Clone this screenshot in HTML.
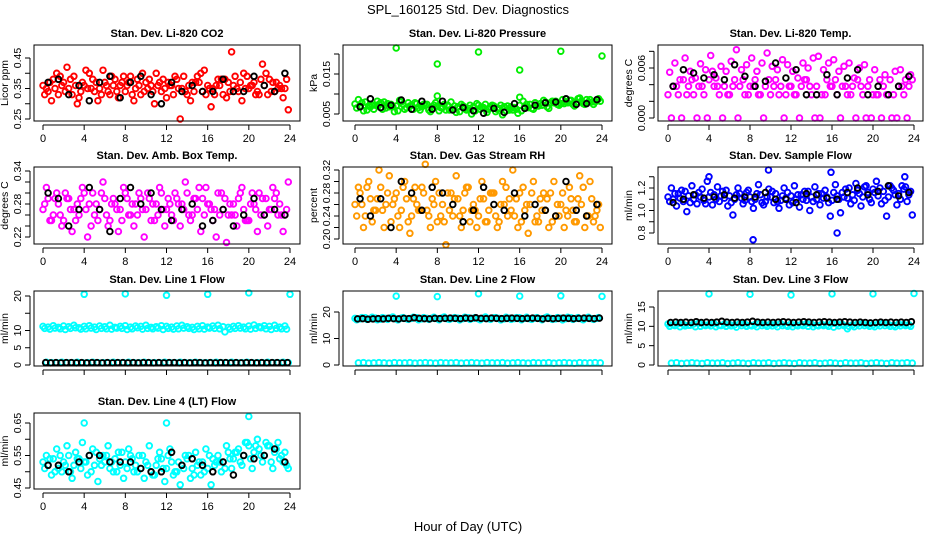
<!DOCTYPE html>
<html><head><meta charset="utf-8">
<style>
html,body{margin:0;padding:0;background:#fff;}
svg{display:block;font-family:"Liberation Sans",Arial,sans-serif;}
</style></head>
<body>
<svg id="chart" width="936" height="540" viewBox="0 0 936 540" xmlns="http://www.w3.org/2000/svg">
<rect x="0" y="0" width="936" height="540" fill="#fff"/>
<text x="468" y="14" text-anchor="middle" font-size="13">SPL_160125  Std. Dev. Diagnostics</text>
<text x="468" y="531" text-anchor="middle" font-size="13">Hour of Day (UTC)</text>
</svg>
<script>
// ---- data ----
const xTicks = [0,4,8,12,16,20,24];
const titles = ["Stan. Dev. Li-820 CO2","Stan. Dev. Li-820 Pressure","Stan. Dev. Li-820 Temp.","Stan. Dev. Amb. Box Temp.","Stan. Dev. Gas Stream RH","Stan. Dev. Sample Flow","Stan. Dev. Line 1 Flow","Stan. Dev. Line 2 Flow","Stan. Dev. Line 3 Flow","Stan. Dev. Line 4 (LT) Flow"];
const yTitles = ["Licor ppm","kPa","degrees C","degrees C","percent","ml/min","ml/min","ml/min","ml/min","ml/min"];
const colors = ["#ff0000","#00ee00","#ff00ff","#ff00ff","#ff9900","#0000ff","#00ffff","#00ffff","#00ffff","#00ffff"];

const co2A=[0.36,0.34,0.38,0.33,0.37,0.35,0.39,0.32,0.36,0.40,0.34,0.35,0.37,0.33,0.38,0.36,0.34,0.39,0.35,0.33,0.37,0.36,0.40,0.34,0.32,0.36,0.38,0.35,0.33,0.37,0.39,0.34,0.36,0.35,0.38,0.33,0.37,0.36,0.34,0.40,0.35,0.37,0.33,0.36,0.38,0.34,0.36,0.35];
const co2B=[0.33,0.37,0.35,0.39,0.34,0.38,0.36,0.34,0.41,0.35,0.37,0.33,0.36,0.39,0.34,0.37,0.36,0.33,0.38,0.40,0.35,0.34,0.36,0.38,0.37,0.33,0.35,0.39,0.36,0.34,0.37,0.41,0.35,0.33,0.36,0.38,0.34,0.39,0.37,0.35,0.36,0.33,0.38,0.40,0.34,0.37,0.35,0.38];
const co2C=[0.35,0.31,0.40,0.36,0.42,0.33,0.30,0.37,0.35,0.38,0.31,0.41,0.34,0.36,0.32,0.39,0.37,0.31,0.36,0.34,0.38,0.30,0.37,0.35,0.36,0.39,0.25,0.34,0.31,0.37,0.40,0.33,0.29,0.36,0.38,0.32,0.47,0.35,0.31,0.39,0.36,0.34,0.43,0.33,0.37,0.35,0.32,0.28];
const co2K=[0.37,0.38,0.33,0.36,0.31,0.37,0.39,0.32,0.37,0.39,0.33,0.30,0.37,0.34,0.36,0.34,0.34,0.38,0.34,0.34,0.39,0.36,0.34,0.40];

const prA=[0.0075,0.007,0.008,0.0068,0.0072,0.0078,0.0065,0.0074,0.007,0.008,0.0066,0.0072,0.0076,0.0068,0.0074,0.0064,0.007,0.0066,0.0072,0.0062,0.0068,0.007,0.0064,0.0068,0.0072,0.0066,0.0062,0.007,0.0064,0.0068,0.006,0.0066,0.0072,0.0068,0.0074,0.0078,0.0076,0.008,0.0078,0.0082,0.0076,0.008,0.0084,0.0078,0.0082,0.0086,0.008,0.0084];
const prB=[0.0065,0.0078,0.006,0.0072,0.0082,0.0062,0.0076,0.0068,0.0058,0.0074,0.0078,0.0062,0.0066,0.0074,0.006,0.0072,0.0058,0.0074,0.006,0.007,0.0056,0.0064,0.0072,0.0058,0.0062,0.0074,0.0068,0.0056,0.0072,0.0058,0.0068,0.0062,0.0058,0.0074,0.0064,0.007,0.0072,0.0068,0.0082,0.0074,0.0086,0.0078,0.0074,0.0088,0.0076,0.008,0.0074,0.0088];
const prC=[0.0086,0.0058,0.007,0.0062,0.0074,0.008,0.0068,0.0056,0.0084,0.0062,0.007,0.0078,0.006,0.0072,0.0056,0.0078,0.0066,0.006,0.008,0.0054,0.0074,0.006,0.005,0.0076,0.0066,0.0054,0.0072,0.0062,0.0048,0.007,0.006,0.0052,0.0082,0.0066,0.0062,0.007,0.0084,0.0064,0.0078,0.0072,0.0076,0.0084,0.007,0.009,0.0074,0.0086,0.008,0.0082];
const prK=[0.0068,0.0088,0.0066,0.0072,0.0085,0.0062,0.0082,0.0062,0.0082,0.006,0.0066,0.0058,0.0052,0.0064,0.0054,0.0076,0.0064,0.0072,0.0078,0.008,0.0088,0.0074,0.0076,0.0086];
const prOutH=[4,8,8,12,16,16,20,24];
const prOutV=[0.0215,0.0175,0.0095,0.0205,0.016,0.0092,0.0207,0.0195];

const tpA=[0.0028,0.0038,0.0028,0.0046,0.0038,0.0028,0.0038,0.0028,0.0046,0.0038,0.0028,0.0038,0.0028,0.0046,0.0038,0.0028,0.0038,0.0046,0.0028,0.0038,0.0028,0.0046,0.0038,0.0028,0.0038,0.0028,0.0038,0.0046,0.0028,0.0038,0.0028,0.0046,0.0038,0.0028,0.0038,0.0028,0.0038,0.0046,0.0028,0.0038,0.0028,0.0028,0.0038,0.0028,0.0028,0.0038,0.0028,0.0038];
const tpB=[0.0055,0.0066,0.0046,0.0072,0.0056,0.0048,0.0065,0.0058,0.0075,0.0048,0.0062,0.0056,0.0068,0.0082,0.0058,0.0064,0.0072,0.0056,0.0066,0.0078,0.0062,0.0058,0.007,0.0064,0.0056,0.0048,0.0066,0.006,0.0072,0.0074,0.0058,0.0066,0.007,0.0056,0.0062,0.0066,0.0048,0.006,0.0064,0.0046,0.0058,0.0046,0.0052,0.0046,0.0056,0.0058,0.0046,0.0052];
const tpC=[0,0.0038,0,0.0028,0.0046,0,0.0038,0,0.0056,0.0038,0,0.0028,0.0038,0,0.0046,0.0028,0.0038,0.0028,0,0.0046,0.0038,0.0028,0,0.0038,0.0028,0,0.0046,0.0038,0,0,0.0028,0.0038,0.0046,0,0.0038,0.0028,0,0.0038,0,0,0.0028,0,0.0028,0,0,0.0038,0,0.0046];
const tpK=[0.0038,0.0058,0.0054,0.0048,0.0052,0.0046,0.0064,0.005,0.0038,0.0044,0.0066,0.0048,0.0058,0.0028,0.0028,0.0052,0.0028,0.0048,0.0058,0.0028,0.0038,0.0028,0.0038,0.005];

const abA=[0.27,0.29,0.26,0.28,0.25,0.29,0.27,0.26,0.30,0.28,0.26,0.27,0.29,0.25,0.28,0.27,0.30,0.26,0.28,0.29,0.27,0.25,0.28,0.30,0.27,0.26,0.29,0.28,0.30,0.26,0.27,0.29,0.28,0.25,0.30,0.27,0.26,0.28,0.29,0.27,0.25,0.28,0.30,0.26,0.27,0.29,0.28,0.26];
const abB=[0.28,0.25,0.29,0.26,0.30,0.27,0.25,0.29,0.27,0.24,0.28,0.30,0.26,0.28,0.27,0.25,0.29,0.28,0.26,0.27,0.30,0.28,0.26,0.27,0.29,0.25,0.28,0.27,0.26,0.29,0.31,0.26,0.28,0.27,0.26,0.29,0.28,0.26,0.30,0.25,0.28,0.27,0.26,0.29,0.27,0.30,0.26,0.27];
const abC=[0.31,0.25,0.30,0.24,0.29,0.23,0.28,0.31,0.22,0.30,0.25,0.32,0.24,0.29,0.23,0.31,0.26,0.24,0.30,0.22,0.29,0.25,0.31,0.24,0.28,0.30,0.24,0.32,0.25,0.29,0.23,0.31,0.27,0.22,0.30,0.21,0.26,0.24,0.31,0.25,0.30,0.23,0.29,0.24,0.31,0.26,0.23,0.32];
const abK=[0.30,0.29,0.24,0.27,0.31,0.27,0.23,0.29,0.31,0.28,0.30,0.27,0.25,0.27,0.28,0.24,0.25,0.27,0.24,0.26,0.29,0.26,0.27,0.26];

const rhA=[0.26,0.28,0.24,0.27,0.25,0.29,0.26,0.23,0.28,0.25,0.27,0.24,0.26,0.29,0.25,0.27,0.23,0.26,0.28,0.24,0.27,0.25,0.29,0.26,0.24,0.27,0.25,0.28,0.23,0.26,0.27,0.24,0.28,0.25,0.26,0.23,0.27,0.25,0.28,0.24,0.26,0.25,0.27,0.23,0.26,0.24,0.27,0.25];
const rhB=[0.24,0.26,0.29,0.23,0.27,0.25,0.28,0.26,0.24,0.29,0.23,0.27,0.25,0.28,0.24,0.26,0.28,0.23,0.25,0.27,0.24,0.28,0.23,0.25,0.27,0.23,0.28,0.24,0.26,0.29,0.25,0.27,0.23,0.26,0.28,0.24,0.25,0.27,0.23,0.26,0.28,0.24,0.25,0.27,0.29,0.24,0.23,0.26];
const rhC=[0.29,0.22,0.30,0.25,0.32,0.22,0.31,0.27,0.22,0.30,0.21,0.29,0.25,0.33,0.22,0.30,0.24,0.19,0.28,0.31,0.22,0.29,0.25,0.22,0.30,0.23,0.28,0.22,0.30,0.24,0.32,0.22,0.29,0.21,0.30,0.23,0.28,0.22,0.30,0.24,0.22,0.29,0.23,0.31,0.22,0.30,0.24,0.22];
const rhK=[0.27,0.24,0.27,0.22,0.30,0.28,0.25,0.29,0.28,0.26,0.23,0.25,0.29,0.26,0.25,0.28,0.24,0.26,0.25,0.24,0.30,0.25,0.24,0.26];

const sfA=[1.12,1.10,1.15,1.08,1.13,1.10,1.16,1.09,1.12,1.14,1.08,1.11,1.13,1.10,1.15,1.09,1.12,1.10,1.14,1.08,1.12,1.15,1.09,1.11,1.13,1.10,1.14,1.09,1.12,1.10,1.15,1.12,1.09,1.13,1.16,1.11,1.14,1.18,1.12,1.16,1.19,1.13,1.17,1.12,1.18,1.15,1.19,1.14];
const sfB=[1.08,1.15,1.11,1.17,1.07,1.14,1.12,1.06,1.16,1.10,1.13,1.18,1.07,1.14,1.11,1.16,1.08,1.15,1.07,1.12,1.17,1.08,1.13,1.16,1.07,1.14,1.10,1.17,1.08,1.15,1.11,1.07,1.16,1.10,1.12,1.20,1.09,1.15,1.21,1.10,1.16,1.20,1.09,1.22,1.14,1.10,1.21,1.17];
const sfC=[1.20,1.04,1.18,0.99,1.22,1.06,1.19,1.26,1.05,1.21,1.17,1.04,0.96,1.20,1.06,1.18,1.02,1.23,1.05,1.19,1.07,1.02,1.20,1.05,1.22,1.03,1.17,1.00,1.21,1.05,1.18,0.95,1.23,0.98,1.19,1.06,1.24,1.04,1.22,1.07,1.26,1.06,0.95,1.20,1.05,1.22,1.08,0.96];
const sfK=[1.07,1.10,1.14,1.11,1.12,1.14,1.11,1.12,1.12,1.16,1.10,1.10,1.07,1.15,1.14,1.11,1.10,1.16,1.20,1.14,1.17,1.22,1.13,1.16];
const sfOutH=[8.3,16.5,4.0,9.8,15.9,23.1];
const sfOutV=[0.74,0.80,1.30,1.36,1.34,1.30];

const l1A=[11.2,11.0,11.4,10.9,11.3,11.1,11.5,10.8,11.2,11.4,11.0,11.3,11.1,11.5,10.9,11.2,11.4,11.0,11.3,11.2,11.5,10.9,11.1,11.4,11.2,11.0,11.3,11.5,11.1,10.9,11.2,11.4,11.0,11.3,11.5,11.1,10.9,11.2,11.4,11.0,11.3,11.6,11.1,11.4,11.2,11.5,11.0,11.3];
const l1B=[10.6,10.4,10.7,10.5,10.3,10.6,10.8,10.4,10.5,10.7,10.3,10.6,10.5,10.4,10.7,10.6,10.3,10.5,10.8,10.4,10.6,10.5,10.7,10.3,10.6,10.4,10.5,10.7,10.6,10.3,10.5,10.4,10.7,10.6,10.5,9.6,10.4,10.6,10.7,10.5,10.4,10.6,10.8,10.5,10.3,10.6,10.5,10.4];
const l1C=[0.8,0.7,0.7,0.8,0.7,0.7,0.8,0.7,0.7,0.8,0.7,0.7,0.7,0.8,0.7,0.7,0.8,0.7,0.7,0.8,0.7,0.7,0.7,0.8,0.7,0.7,0.8,0.7,0.7,0.8,0.7,0.7,0.7,0.8,0.7,0.7,0.8,0.7,0.7,0.8,0.7,0.7,0.7,0.8,0.7,0.7,0.8,0.7];
const l1K=[0.7,0.6,0.7,0.6,0.7,0.7,0.6,0.7,0.6,0.7,0.7,0.6,0.7,0.6,0.7,0.7,0.6,0.7,0.6,0.7,0.7,0.6,0.7,0.6,0.7,0.7,0.6,0.7,0.6,0.7,0.7,0.6,0.7,0.6,0.7,0.7,0.6,0.7,0.6,0.7,0.7,0.6,0.7,0.6,0.7,0.7,0.6,0.7];
const l1OutH=[4,8,12,16,20,24];
const l1OutV=[20.5,20.6,20.2,20.5,20.9,20.5];

const l2A=[17.6,17.4,17.8,17.5,17.7,17.3,17.6,17.8,17.4,17.7,17.5,17.6,17.8,17.4,17.6,17.7,17.5,17.8,17.4,17.6,17.7,17.5,17.8,17.6,17.4,17.7,17.5,17.8,17.6,17.4,17.7,17.5,17.8,17.6,17.4,17.7,17.5,17.8,17.6,17.4,17.7,17.5,17.8,17.6,17.4,17.7,17.5,17.6];
const l2B=[17.1,17.9,17.2,18.0,17.1,17.9,17.2,18.1,17.0,17.9,17.2,18.0,17.1,17.9,17.2,18.0,17.1,18.1,17.2,17.9,17.0,18.0,17.2,17.9,17.1,18.1,17.2,17.9,17.0,18.0,17.2,17.9,17.1,18.0,17.2,17.9,17.1,18.1,17.2,17.9,17.0,18.0,17.2,17.9,17.1,18.0,17.2,17.9];
const l2C=[0.8,0.9,0.7,0.8,0.9,0.8,0.7,0.9,0.8,0.8,0.9,0.7,0.8,0.9,0.8,0.7,0.9,0.8,0.8,0.9,0.7,0.8,0.9,0.8,0.7,0.9,0.8,0.8,0.9,0.7,0.8,0.9,0.8,0.7,0.9,0.8,0.8,0.9,0.7,0.8,0.9,0.8,0.7,0.9,0.8,0.8,0.9,0.8];
const l2K=[17.4,17.5,17.3,17.4,17.5,17.4,17.6,17.5,17.4,17.6,17.5,17.8,17.6,17.5,17.4,17.6,17.5,17.6,17.7,17.6,17.5,17.7,17.6,17.8,17.6,17.5,17.7,17.6,17.5,17.6,17.7,17.6,17.5,17.6,17.7,17.6,17.4,17.6,17.5,17.6,17.7,17.6,17.5,17.6,17.7,17.6,17.5,17.7];
const l2OutH=[4,8,12,16,20,24];
const l2OutV=[26.0,25.8,26.9,26.0,26.1,25.9];

const l3A=[10.6,10.4,10.7,10.5,10.3,10.6,10.8,10.4,10.5,10.7,10.3,10.6,10.5,10.4,10.7,10.6,10.3,10.5,10.8,10.4,10.6,10.5,10.7,10.3,10.6,10.4,10.5,10.7,10.6,10.3,10.5,10.4,10.7,10.6,10.5,9.4,10.4,10.6,10.7,10.5,10.4,10.6,10.8,10.5,10.3,10.6,10.5,10.4];
const l3B=[10.0,10.2,9.9,10.1,10.3,9.9,10.0,10.2,10.1,9.9,10.2,10.0,10.1,9.8,10.2,10.0,10.1,9.9,10.2,10.0,10.1,9.9,10.2,10.0,9.9,10.1,10.2,10.0,9.9,10.1,10.2,10.0,9.8,10.1,10.2,10.0,9.9,10.1,10.2,10.0,9.9,10.1,10.2,10.0,9.9,10.1,10.2,10.0];
const l3C=[0.5,0.6,0.4,0.5,0.6,0.5,0.4,0.6,0.5,0.5,0.6,0.4,0.5,0.6,0.5,0.4,0.6,0.5,0.5,0.6,0.4,0.5,0.6,0.5,0.4,0.6,0.5,0.5,0.6,0.4,0.5,0.6,0.5,0.4,0.6,0.5,0.5,0.6,0.4,0.5,0.6,0.5,0.4,0.6,0.5,0.5,0.6,0.5];
const l3K=[11.0,11.1,11.0,11.1,11.0,11.2,11.0,11.1,11.0,11.1,11.3,11.1,11.0,11.1,11.0,11.1,11.3,11.1,11.0,11.1,11.0,11.1,11.2,11.1,11.0,11.1,11.2,11.1,11.0,11.1,11.2,11.1,11.0,11.1,11.2,11.1,11.0,11.1,11.0,10.9,11.0,11.1,11.0,11.1,11.0,11.1,11.0,11.2];
const l3OutH=[4,8,12,16,20,24];
const l3OutV=[18.4,18.3,18.1,18.4,18.4,18.5];

const l4A=[0.53,0.52,0.54,0.51,0.53,0.55,0.52,0.54,0.53,0.55,0.52,0.54,0.53,0.51,0.54,0.52,0.53,0.55,0.52,0.51,0.53,0.50,0.52,0.54,0.51,0.53,0.50,0.52,0.54,0.51,0.52,0.53,0.51,0.54,0.55,0.53,0.56,0.54,0.57,0.55,0.58,0.56,0.57,0.55,0.58,0.56,0.54,0.56];
const l4B=[0.51,0.54,0.50,0.55,0.52,0.50,0.56,0.51,0.53,0.50,0.56,0.52,0.55,0.53,0.50,0.56,0.51,0.54,0.50,0.55,0.52,0.49,0.54,0.51,0.55,0.49,0.53,0.51,0.55,0.49,0.53,0.50,0.55,0.52,0.53,0.51,0.54,0.56,0.53,0.59,0.54,0.58,0.55,0.59,0.53,0.57,0.55,0.52];
const l4C=[0.55,0.49,0.57,0.50,0.58,0.48,0.54,0.59,0.49,0.57,0.47,0.55,0.58,0.50,0.56,0.48,0.57,0.50,0.55,0.48,0.58,0.49,0.56,0.47,0.57,0.50,0.46,0.55,0.48,0.56,0.49,0.57,0.46,0.53,0.50,0.58,0.51,0.56,0.52,0.59,0.51,0.60,0.53,0.58,0.51,0.59,0.53,0.51];
const l4K=[0.52,0.52,0.50,0.53,0.55,0.55,0.53,0.53,0.53,0.51,0.50,0.50,0.56,0.52,0.54,0.52,0.50,0.53,0.49,0.55,0.54,0.55,0.57,0.53];
const l4OutH=[4,12,20];
const l4OutV=[0.65,0.65,0.67];

const yTickVals=[[0.25,0.30,0.35,0.40,0.45],[0.005,0.010,0.015,0.020],[0,0.002,0.004,0.006,0.008],[0.22,0.24,0.26,0.28,0.30,0.32,0.34],[0.20,0.22,0.24,0.26,0.28,0.30,0.32],[0.8,0.9,1.0,1.1,1.2,1.3],[0,5,10,15,20],[0,10,20],[0,5,10,15],[0.45,0.50,0.55,0.60,0.65]];
const yTickLabels=[["0.25","","0.35","","0.45"],["0.005","","0.015",""],["0.000","","","0.006",""],["0.22","","","0.28","","","0.34"],["0.20","","0.24","","0.28","","0.32"],["0.8","","1.0","","1.2",""],["0","5","10","","20"],["0","10","20"],["0","5","10","15"],["0.45","","0.55","","0.65"]];
</script>
<script>
const svg=document.getElementById('chart');
const NS='http://www.w3.org/2000/svg';
function mk(tag,attrs,parent){const e=document.createElementNS(NS,tag);for(const k in attrs)e.setAttribute(k,attrs[k]);(parent||svg).appendChild(e);return e;}
const cols=[{l:34,r:300,x0:43,x24:290},{l:343,r:612,x0:355,x24:602},{l:658,r:923,x0:668,x24:914}];
const rows=[{t:45,b:121},{t:167,b:244},{t:291,b:366},{t:413,b:489}];
const ycal=[[0.25,119,0.45,58],[0.005,114,0.015,74],[0,118,0.006,68],[0.22,237,0.34,171],[0.20,239,0.32,170],[0.8,233,1.2,188],[0,365,20,296],[0,365,20,312],[0,365,15,307],[0.45,488,0.65,423]];
const series=[[co2A,co2B,co2C,co2K],[prA,prB,prC,prK],[tpA,tpB,tpC,tpK],[abA,abB,abC,abK],[rhA,rhB,rhC,rhK],[sfA,sfB,sfC,sfK],[l1A,l1B,l1C,l1K],[l2A,l2B,l2C,l2K],[l3A,l3B,l3C,l3K],[l4A,l4B,l4C,l4K]];
const outs=[null,[prOutH,prOutV],null,null,null,[sfOutH,sfOutV],[l1OutH,l1OutV],[l2OutH,l2OutV],[l3OutH,l3OutV],[l4OutH,l4OutV]];
const R=2.8, SW=1.9;

for(let p=0;p<10;p++){
  const c=cols[p%3], r=rows[Math.floor(p/3)];
  const g=mk('g',{});
  
  
  const xS=h=>c.x0+(c.x24-c.x0)*h/24;
  const cal=ycal[p];
  const yS=v=>cal[1]+(v-cal[0])*(cal[3]-cal[1])/(cal[2]-cal[0]);
  const t=mk('text',{x:(c.l+c.r)/2,y:r.t-8,'text-anchor':'middle','font-size':11,'font-weight':'bold'},g);
  t.textContent=titles[p];
  
  
  const pts=mk('g',{fill:'none','stroke-width':SW},g);
  
  
  const [A,B,C,K]=series[p];
  [[A,0],[B,0.17],[C,0.33]].forEach(([arr,off])=>{
    arr.forEach((v,i)=>{
      const h=i*24/arr.length+off;
      const e=mk('circle',{cx:xS(h).toFixed(1),cy:yS(v).toFixed(1),r:R,stroke:colors[p]},pts);
      
      
    });
  });
  if(outs[p]){outs[p][0].forEach((h,i)=>{
    const e=mk('circle',{cx:xS(h).toFixed(1),cy:yS(outs[p][1][i]).toFixed(1),r:R,stroke:colors[p]},pts);
    
    
  });}
  K.forEach((v,i)=>{
    const h=(i+0.5)*24/K.length;
    const e=mk('circle',{cx:xS(h).toFixed(1),cy:yS(v).toFixed(1),r:R,stroke:'#000'},pts);
    
    
  });
  const bx=mk('rect',{x:c.l,y:r.t,width:c.r-c.l,height:r.b-r.t,fill:'none',stroke:'#000','stroke-width':1},g);
  
  
  const xa=mk('g',{stroke:'#000','stroke-width':1},g);
  
  
  mk('line',{x1:xS(0),x2:xS(24),y1:r.b+4,y2:r.b+4},xa);
  xTicks.forEach(h=>{
    mk('line',{x1:xS(h),x2:xS(h),y1:r.b+4,y2:r.b+9},xa);
    if(p<6||p===9){
      const tl=mk('text',{x:xS(h),y:r.b+21,'text-anchor':'middle','font-size':11,stroke:'none',fill:'#000'},g);
      tl.textContent=h;
      
      
    }
  });
  const ya=mk('g',{stroke:'#000','stroke-width':1},g);
  
  
  const tv=yTickVals[p];
  mk('line',{x1:c.l-4,x2:c.l-4,y1:yS(tv[0]),y2:yS(tv[tv.length-1])},ya);
  tv.forEach((v,i)=>{
    const y=yS(v);
    mk('line',{x1:c.l-9,x2:c.l-4,y1:y,y2:y},ya);
    const lab=yTickLabels[p][i];
    if(lab){
      const tl=mk('text',{x:c.l-13,y:y,'text-anchor':'middle','font-size':10.5,transform:`rotate(-90 ${c.l-13} ${y})`},g);
      tl.textContent=lab;
      
      
    }
  });
  const ym=(r.t+r.b)/2;
  const yt=mk('text',{x:c.l-26,y:ym,'text-anchor':'middle','font-size':10.5,transform:`rotate(-90 ${c.l-26} ${ym})`},g);
  yt.textContent=yTitles[p];
  
  
}
</script>
</body></html>
